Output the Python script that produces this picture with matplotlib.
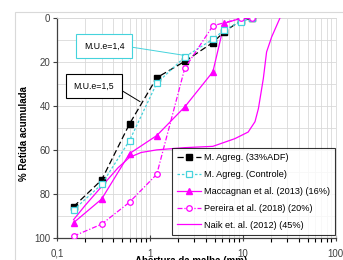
import matplotlib
matplotlib.use("Agg")
import matplotlib.pyplot as plt
from matplotlib.patches import Rectangle

plt.rcParams['font.family'] = ['Liberation Sans', 'DejaVu Sans']

# ---- data ----
sieves = [0.15, 0.3, 0.6, 1.18, 2.36, 4.75, 6.3, 9.5, 12.5]
agreg_adf = [85.6, 73.5, 48.0, 27.0, 19.6, 11.0, 6.1, 1.0, 0.0]
agreg_ctrl = [87.1, 75.5, 55.6, 29.5, 17.6, 9.5, 5.3, 1.5, 0.0]
macc_x = [0.15, 0.3, 0.6, 1.18, 2.36, 4.75, 6.3, 9.5, 12.5]
macc_y = [92.9, 82.2, 61.5, 53.3, 40.3, 24.3, 2.3, 0.0, 0.0]
per_x = [0.15, 0.3, 0.6, 1.18, 2.36, 4.75, 9.5, 12.5]
per_y = [99.0, 93.6, 83.6, 70.9, 22.8, 3.4, 0.0, 0.0]
naik_x = [0.15, 0.2, 0.3, 0.45, 0.6, 0.8, 1.18, 2.36, 4.75, 8.2, 11.4,
          13.5, 14.7, 16.6, 18.0, 20.4, 25.0]
naik_y = [91.5, 85.0, 76.5, 68.0, 63.2, 61.0, 59.8, 58.8, 58.2, 54.7, 51.7,
          47.0, 41.0, 27.4, 15.3, 8.5, 0.0]

labels = ["M. Agreg. (33%ADF)", "M. Agreg. (Controle)",
          "Maccagnan et al. (2013) (16%)", "Pereira et al. (2018) (20%)",
          "Naik et. al. (2012) (45%)"]
xticks = [0.1, 1, 10, 100]
xticklabels = ["0,1", "1", "10", "100"]
yticks = [0, 20, 40, 60, 80, 100]

MAG = '#FF00FF'
CYAN = '#45D3DC'

W, H = 343, 260
fig = plt.figure(figsize=(W / 100, H / 100), dpi=100)
ax = fig.add_axes([57.3 / W, 1 - 238.3 / H, (335.7 - 57.3) / W, 220 / H])

ax.set_xscale('log')
ax.set_xlim(0.1, 100)
ax.set_ylim(100, 0)

ax.plot(sieves, agreg_adf, color='black', lw=0.9, dashes=(5, 2.5),
        marker='s', ms=4, mfc='black', mec='black', label=labels[0], zorder=5)
ax.plot(sieves, agreg_ctrl, color=CYAN, lw=0.9, dashes=(2, 1.5),
        marker='s', ms=4, mfc='white', mec=CYAN, mew=0.9, label=labels[1], zorder=6)
ax.plot(macc_x, macc_y, color=MAG, lw=0.9, marker='^', ms=4,
        mfc=MAG, mec=MAG, markevery=list(range(7)), label=labels[2], zorder=4)
ax.plot(per_x, per_y, color=MAG, lw=0.9, dashes=(4, 1.5, 1, 1.5),
        marker='o', ms=4, mfc='white', mec=MAG, mew=0.9, label=labels[3], zorder=7)
ax.plot(naik_x, naik_y, color=MAG, lw=0.9, label=labels[4], zorder=3)

# grid
ax.set_yticks(yticks)
ax.set_yticks(range(0, 101, 10), minor=True)
ax.grid(True, which='both', axis='x', color='#D9D9D9', lw=0.6)
ax.grid(True, which='both', axis='y', color='#D9D9D9', lw=0.6)
ax.set_axisbelow(True)

ax.set_xticks(xticks)
ax.set_xticklabels(xticklabels)
ax.tick_params(axis='both', labelsize=7, colors='#404040', labelcolor='#404040')
ax.tick_params(axis='x', which='major', direction='inout', length=5, width=0.8, pad=5)
ax.tick_params(axis='x', which='minor', direction='out', length=3, width=0.8)
ax.tick_params(axis='y', which='major', direction='out', length=3, width=0.8, pad=2)
ax.tick_params(axis='y', which='minor', length=0)

for s in ['top', 'right']:
    ax.spines[s].set_color('#D9D9D9')
    ax.spines[s].set_linewidth(0.6)
for s in ['left', 'bottom']:
    ax.spines[s].set_color('#404040')
    ax.spines[s].set_linewidth(0.9)

fig.text(24.5 / W, 1 - 133.5 / H, "% Retida acumulada", rotation=90,
         ha='center', va='center', fontsize=7, fontweight='bold')
fig.text(191 / W, 1 - 255.5 / H, "Abertura da malha (mm)", ha='center',
         va='top', fontsize=7, fontweight='bold')

# annotations
ax.annotate("M.U.e=1,4", xy=(2.3, 16.8), xycoords='data',
            xytext=(0.168, 0.874), textcoords='axes fraction',
            ha='center', va='center', fontsize=6.3,
            bbox=dict(boxstyle='square,pad=0.85', fc='white', ec=CYAN, lw=0.8),
            arrowprops=dict(arrowstyle='-', color=CYAN, lw=0.7,
                            relpos=(1, 0.5), shrinkA=0, shrinkB=0), zorder=10)
ax.annotate("M.U.e=1,5", xy=(0.78, 37.9), xycoords='data',
            xytext=(0.132, 0.692), textcoords='axes fraction',
            ha='center', va='center', fontsize=6.3,
            bbox=dict(boxstyle='square,pad=0.85', fc='white', ec='black', lw=0.8),
            arrowprops=dict(arrowstyle='-', color='black', lw=0.7,
                            relpos=(1, 0.5), shrinkA=0, shrinkB=0), zorder=10)

leg = ax.legend(loc='lower left', bbox_to_anchor=(171.7 / W, 1 - 235 / H),
                bbox_transform=fig.transFigure, fontsize=6.6, frameon=True,
                fancybox=False, edgecolor='black', borderaxespad=0,
                handlelength=2.6, labelspacing=0.85, borderpad=0.6,
                handletextpad=0.3)
leg.get_frame().set_linewidth(0.8)

# outer chart frame
fig.patches.append(Rectangle((15 / W, -0.1), 1.2, 1 - 11.7 / H + 0.1,
                             transform=fig.transFigure, fill=False,
                             ec='#D9D9D9', lw=0.8))

fig.savefig('out.png', dpi=100)
